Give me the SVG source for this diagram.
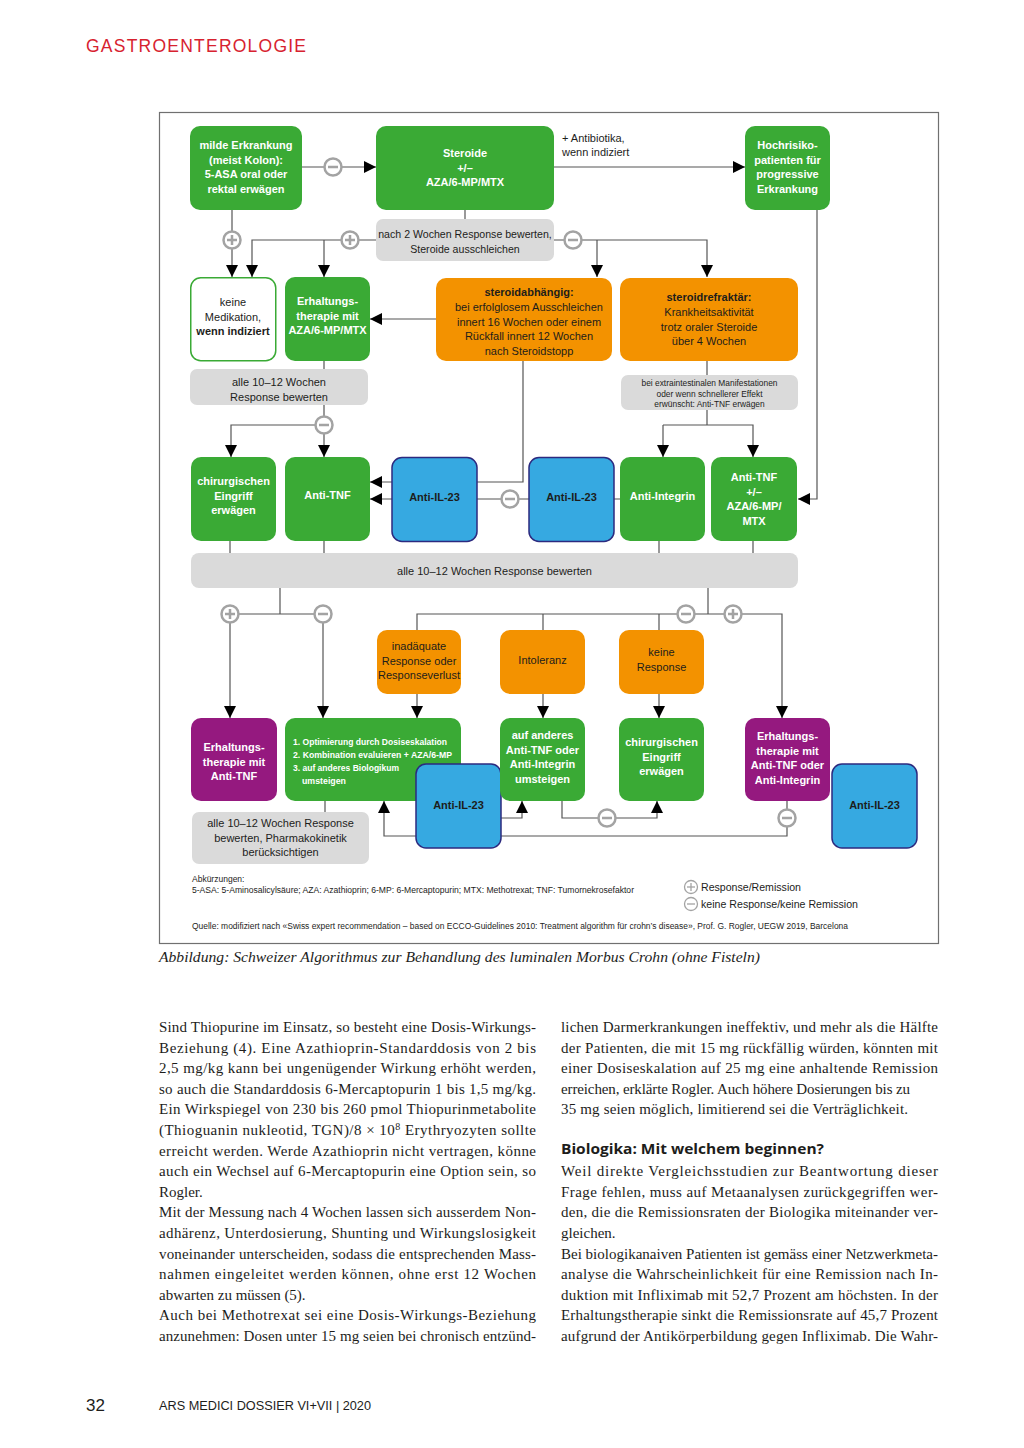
<svg xmlns="http://www.w3.org/2000/svg" xmlns:xlink="http://www.w3.org/1999/xlink" width="1024" height="1448" viewBox="0 0 1024 1448">
<style>
.g{fill:#3aaa35}
.o{fill:#f39200}
.p{fill:#95197f}
.b{fill:#36a9e1;stroke:#2c2a7f;stroke-width:1.5}
.gr{fill:#dadada}
.wb{fill:#fff;stroke:#3aaa35;stroke-width:1.5}
.tw{font-family:'Liberation Sans',Arial,sans-serif;font-weight:bold;font-size:11px;fill:#fff;text-anchor:middle}
.tkb{font-family:'Liberation Sans',Arial,sans-serif;font-weight:bold;font-size:11px;fill:#1d1d1b;text-anchor:middle}
.tk{font-family:'Liberation Sans',Arial,sans-serif;font-size:11px;fill:#1d1d1b;text-anchor:middle}
.ts{font-family:'Liberation Sans',Arial,sans-serif;font-size:8.5px;fill:#1d1d1b}
.ln{stroke:#555;stroke-width:1.2;fill:none}
.c{fill:#fff;stroke:#a3a3a3;stroke-width:2.5}
.cs{stroke:#a3a3a3;stroke-width:2.5}
.body{font-family:'Liberation Serif','Times New Roman',serif;font-size:15px;fill:#1d1d1b}
</style>
<defs>
<marker id="ar" markerUnits="userSpaceOnUse" markerWidth="12" markerHeight="12" refX="12" refY="6" orient="auto">
<path d="M0,0 L12,6 L0,12 z" fill="#000"/>
</marker>
<g id="minus"><circle r="8.5" class="c"/><line x1="-5" y1="0" x2="5" y2="0" class="cs"/></g>
<g id="plus"><circle r="8.5" class="c"/><line x1="-5" y1="0" x2="5" y2="0" class="cs"/><line x1="0" y1="-5" x2="0" y2="5" class="cs"/></g>
<g id="minusS"><circle r="6.5" fill="#fff" stroke="#a3a3a3" stroke-width="1.3"/><line x1="-4" y1="0" x2="4" y2="0" stroke="#a3a3a3" stroke-width="1.3"/></g>
<g id="plusS"><circle r="6.5" fill="#fff" stroke="#a3a3a3" stroke-width="1.3"/><line x1="-4" y1="0" x2="4" y2="0" stroke="#a3a3a3" stroke-width="1.3"/><line x1="0" y1="-4" x2="0" y2="4" stroke="#a3a3a3" stroke-width="1.3"/></g>
</defs>
<rect width="1024" height="1448" fill="#fff"/>

<!-- header -->
<text x="86" y="52" font-family="'Liberation Sans',Arial,sans-serif" font-size="17.5" fill="#d7222f" textLength="220" lengthAdjust="spacing">GASTROENTEROLOGIE</text>

<!-- frame -->
<rect x="159.5" y="112.5" width="779" height="831" fill="none" stroke="#707070" stroke-width="1.2"/>

<!-- connectors -->
<g id="connectors">
<path class="ln" d="M302,167 H376" marker-end="url(#ar)"/>
<path class="ln" d="M554,167 H745" marker-end="url(#ar)"/>
<path class="ln" d="M465,210 V219"/>
<path class="ln" d="M232,210 V277" marker-end="url(#ar)"/>
<path class="ln" d="M376,240 H252 V277" marker-end="url(#ar)"/>
<path class="ln" d="M324,240 V277" marker-end="url(#ar)"/>
<path class="ln" d="M554,240 H707 V277" marker-end="url(#ar)"/>
<path class="ln" d="M597,240 V277" marker-end="url(#ar)"/>
<path class="ln" d="M817,210 V499 H798" marker-end="url(#ar)"/>
<path class="ln" d="M436,319 H370" marker-end="url(#ar)"/>
<path class="ln" d="M324,361 V369"/>
<path class="ln" d="M324,405 V457" marker-end="url(#ar)"/>
<path class="ln" d="M324,425 H231 V457" marker-end="url(#ar)"/>
<path class="ln" d="M707,361 V375"/>
<path class="ln" d="M707,410 V425"/>
<path class="ln" d="M663,425 H753 V457" marker-end="url(#ar)"/>
<path class="ln" d="M663,425 V457" marker-end="url(#ar)"/>
<path class="ln" d="M523,361 V482 H370" marker-end="url(#ar)"/>
<path class="ln" d="M620,499 H370" marker-end="url(#ar)"/>
<path class="ln" d="M230,541 V553 M324,541 V553 M659,541 V553 M753,541 V553"/>
<path class="ln" d="M280,588 V614 M230,614 H323"/>
<path class="ln" d="M230,614 V718" marker-end="url(#ar)"/>
<path class="ln" d="M323,614 V718" marker-end="url(#ar)"/>
<path class="ln" d="M708,588 V614"/>
<path class="ln" d="M417,630 V614 H782 V718" marker-end="url(#ar)"/>
<path class="ln" d="M543,614 V630 M659,614 V630"/>
<path class="ln" d="M417,694 V718" marker-end="url(#ar)"/>
<path class="ln" d="M543,694 V718" marker-end="url(#ar)"/>
<path class="ln" d="M659,694 V718" marker-end="url(#ar)"/>
<path class="ln" d="M325,801 V812"/>
<path class="ln" d="M787,801 V836 H384 V801" marker-end="url(#ar)"/>
<path class="ln" d="M562,801 V818 H657 V801" marker-end="url(#ar)"/>
<path class="ln" d="M501,818 H522 V801" marker-end="url(#ar)"/>
<text x="562" y="142" class="tk" style="text-anchor:start">+ Antibiotika,</text>
<text x="562" y="156" class="tk" style="text-anchor:start">wenn indiziert</text>
<use xlink:href="#minus" x="333" y="167"/>
<use xlink:href="#plus" x="232" y="240"/>
<use xlink:href="#plus" x="350" y="240"/>
<use xlink:href="#minus" x="573" y="240"/>
<use xlink:href="#minus" x="324" y="425"/>
<use xlink:href="#minus" x="510" y="499"/>
<use xlink:href="#plus" x="230" y="614"/>
<use xlink:href="#minus" x="323" y="614"/>
<use xlink:href="#minus" x="686" y="614"/>
<use xlink:href="#plus" x="733" y="614"/>
<use xlink:href="#minus" x="787" y="818"/>
<use xlink:href="#minus" x="607" y="818"/>
</g>

<!-- row 1 -->
<g id="n-milde"><rect class="g" x="190" y="126" width="112" height="84" rx="10"/>
<text class="tw"><tspan x="246" y="149">milde Erkrankung</tspan><tspan x="246" y="163.5">(meist Kolon):</tspan><tspan x="246" y="178">5-ASA oral oder</tspan><tspan x="246" y="192.5">rektal erwägen</tspan></text></g>
<g id="n-steroide"><rect class="g" x="376" y="126" width="178" height="84" rx="10"/>
<text class="tw"><tspan x="465" y="157">Steroide</tspan><tspan x="465" y="171.5">+/–</tspan><tspan x="465" y="186">AZA/6-MP/MTX</tspan></text></g>
<g id="n-hoch"><rect class="g" x="745" y="126" width="85" height="84" rx="10"/>
<text class="tw"><tspan x="787.5" y="149">Hochrisiko-</tspan><tspan x="787.5" y="163.5">patienten für</tspan><tspan x="787.5" y="178">progressive</tspan><tspan x="787.5" y="192.5">Erkrankung</tspan></text></g>
<g id="n-gray1"><rect class="gr" x="376" y="219" width="178" height="42" rx="7"/>
<text class="tk" style="font-size:10.6px"><tspan x="465" y="238">nach 2 Wochen Response bewerten,</tspan><tspan x="465" y="253">Steroide ausschleichen</tspan></text></g>

<!-- row 2 -->
<g id="n-keine"><rect class="wb" x="190.75" y="277.75" width="85" height="83" rx="10"/>
<text class="tk"><tspan x="233" y="306">keine</tspan><tspan x="233" y="321">Medikation,</tspan><tspan x="233" y="335" font-weight="bold">wenn indiziert</tspan></text></g>
<g id="n-erh1"><rect class="g" x="285" y="277" width="85" height="84" rx="10"/>
<text class="tw"><tspan x="327.5" y="305">Erhaltungs-</tspan><tspan x="327.5" y="319.5">therapie mit</tspan><tspan x="327.5" y="334">AZA/6-MP/MTX</tspan></text></g>
<g id="n-abh"><rect class="o" x="436" y="278" width="176" height="83" rx="10"/>
<text class="tk"><tspan x="529" y="296" font-weight="bold">steroidabhängig:</tspan><tspan x="529" y="311">bei erfolglosem Ausschleichen</tspan><tspan x="529" y="325.5">innert 16 Wochen oder einem</tspan><tspan x="529" y="340">Rückfall innert 12 Wochen</tspan><tspan x="529" y="354.5">nach Steroidstopp</tspan></text></g>
<g id="n-refr"><rect class="o" x="620" y="278" width="178" height="83" rx="10"/>
<text class="tk"><tspan x="709" y="301" font-weight="bold">steroidrefraktär:</tspan><tspan x="709" y="316">Krankheitsaktivität</tspan><tspan x="709" y="330.5">trotz oraler Steroide</tspan><tspan x="709" y="345">über 4 Wochen</tspan></text></g>
<g id="n-gray2"><rect class="gr" x="190" y="369" width="178" height="36" rx="7"/>
<text class="tk"><tspan x="279" y="386">alle 10–12 Wochen</tspan><tspan x="279" y="401">Response bewerten</tspan></text></g>
<g id="n-gray3"><rect class="gr" x="621" y="375" width="177" height="35" rx="7"/>
<text class="tk" style="font-size:8.4px"><tspan x="709.5" y="386">bei extraintestinalen Manifestationen</tspan><tspan x="709.5" y="396.5">oder wenn schnellerer Effekt</tspan><tspan x="709.5" y="407">erwünscht: Anti-TNF erwägen</tspan></text></g>

<!-- row 3 -->
<g id="n-chir1"><rect class="g" x="191" y="457" width="85" height="84" rx="10"/>
<text class="tw"><tspan x="233.5" y="485">chirurgischen</tspan><tspan x="233.5" y="499.5">Eingriff</tspan><tspan x="233.5" y="514">erwägen</tspan></text></g>
<g id="n-antitnf1"><rect class="g" x="285" y="457" width="85" height="84" rx="10"/>
<text class="tw" x="327.5" y="499">Anti-TNF</text></g>
<g id="n-il23a"><rect class="b" x="392" y="457.5" width="85" height="84" rx="10"/>
<text class="tkb" x="434.5" y="501">Anti-IL-23</text></g>
<g id="n-il23b"><rect class="b" x="529" y="457.5" width="85" height="84" rx="10"/>
<text class="tkb" x="571.5" y="501">Anti-IL-23</text></g>
<g id="n-integrin"><rect class="g" x="620" y="457" width="85" height="84" rx="10"/>
<text class="tw" x="662.5" y="500">Anti-Integrin</text></g>
<g id="n-antitnf2"><rect class="g" x="711" y="457" width="86" height="84" rx="10"/>
<text class="tw"><tspan x="754" y="481">Anti-TNF</tspan><tspan x="754" y="495.5">+/–</tspan><tspan x="754" y="510">AZA/6-MP/</tspan><tspan x="754" y="524.5">MTX</tspan></text></g>
<g id="n-bar"><rect class="gr" x="191" y="553" width="607" height="35" rx="8"/>
<text class="tk" x="494.5" y="575">alle 10–12 Wochen Response bewerten</text></g>

<!-- row 4 -->
<g id="n-inad"><rect class="o" x="377" y="630" width="84" height="64" rx="10"/>
<text class="tk"><tspan x="419" y="650">inadäquate</tspan><tspan x="419" y="664.5">Response oder</tspan><tspan x="419" y="679">Responseverlust</tspan></text></g>
<g id="n-intol"><rect class="o" x="500" y="630" width="85" height="64" rx="10"/>
<text class="tk" x="542.5" y="664">Intoleranz</text></g>
<g id="n-keineresp"><rect class="o" x="619" y="630" width="85" height="64" rx="10"/>
<text class="tk"><tspan x="661.5" y="656">keine</tspan><tspan x="661.5" y="670.5">Response</tspan></text></g>

<g id="n-erh2"><rect class="p" x="191" y="718" width="86" height="83" rx="10"/>
<text class="tw"><tspan x="234" y="751">Erhaltungs-</tspan><tspan x="234" y="765.5">therapie mit</tspan><tspan x="234" y="780">Anti-TNF</tspan></text></g>
<g id="n-optim"><rect class="g" x="285" y="718" width="176" height="83" rx="10"/>
<text class="tw" style="text-anchor:start;font-size:9.4px"><tspan x="293" y="745" textLength="154" lengthAdjust="spacingAndGlyphs">1. Optimierung durch Dosiseskalation</tspan><tspan x="293" y="758" textLength="159" lengthAdjust="spacingAndGlyphs">2. Kombination evaluieren + AZA/6-MP</tspan><tspan x="293" y="771" textLength="106" lengthAdjust="spacingAndGlyphs">3. auf anderes Biologikum</tspan><tspan x="302" y="784" textLength="44" lengthAdjust="spacingAndGlyphs">umsteigen</tspan></text></g>
<g id="n-il23c"><rect class="b" x="416" y="764" width="85" height="84" rx="10"/>
<text class="tkb" x="458.5" y="809">Anti-IL-23</text></g>
<g id="n-anderes"><rect class="g" x="500" y="718" width="85" height="83" rx="10"/>
<text class="tw"><tspan x="542.5" y="739">auf anderes</tspan><tspan x="542.5" y="753.5">Anti-TNF oder</tspan><tspan x="542.5" y="768">Anti-Integrin</tspan><tspan x="542.5" y="782.5">umsteigen</tspan></text></g>
<g id="n-chir2"><rect class="g" x="619" y="718" width="85" height="83" rx="10"/>
<text class="tw"><tspan x="661.5" y="746">chirurgischen</tspan><tspan x="661.5" y="760.5">Eingriff</tspan><tspan x="661.5" y="775">erwägen</tspan></text></g>
<g id="n-erh3"><rect class="p" x="745" y="718" width="85" height="83" rx="10"/>
<text class="tw"><tspan x="787.5" y="740">Erhaltungs-</tspan><tspan x="787.5" y="754.5">therapie mit</tspan><tspan x="787.5" y="769">Anti-TNF oder</tspan><tspan x="787.5" y="783.5">Anti-Integrin</tspan></text></g>
<g id="n-il23d"><rect class="b" x="832" y="764" width="85" height="84" rx="10"/>
<text class="tkb" x="874.5" y="809">Anti-IL-23</text></g>
<g id="n-gray4"><rect class="gr" x="192" y="812" width="177" height="52" rx="7"/>
<text class="tk"><tspan x="280.5" y="827">alle 10–12 Wochen Response</tspan><tspan x="280.5" y="842">bewerten, Pharmakokinetik</tspan><tspan x="280.5" y="856">berücksichtigen</tspan></text></g>

<!-- footer inside frame -->
<text class="ts" x="192" y="882">Abkürzungen:</text>
<text class="ts" x="192" y="893" textLength="442" lengthAdjust="spacingAndGlyphs">5-ASA: 5-Aminosalicylsäure; AZA: Azathioprin; 6-MP: 6-Mercaptopurin; MTX: Methotrexat; TNF: Tumornekrosefaktor</text>
<use xlink:href="#plusS" x="691" y="887"/>
<use xlink:href="#minusS" x="691" y="904"/>
<text class="tk" style="text-anchor:start" x="701" y="891" textLength="100" lengthAdjust="spacingAndGlyphs">Response/Remission</text>
<text class="tk" style="text-anchor:start" x="701" y="908" textLength="157" lengthAdjust="spacingAndGlyphs">keine Response/keine Remission</text>
<text class="ts" x="192" y="929" textLength="656" lengthAdjust="spacingAndGlyphs">Quelle: modifiziert nach «Swiss expert recommendation – based on ECCO-Guidelines 2010: Treatment algorithm für crohn’s disease», Prof. G. Rogler, UEGW 2019, Barcelona</text>

<!-- caption -->
<text x="159" y="962" font-family="'Liberation Serif','Times New Roman',serif" font-style="italic" font-size="15" fill="#1d1d1b" textLength="601" lengthAdjust="spacingAndGlyphs">Abbildung: Schweizer Algorithmus zur Behandlung des luminalen Morbus Crohn (ohne Fisteln)</text>

<!-- body text left -->
<g class="body">
<text x="159" y="1032" textLength="377" lengthAdjust="spacing">Sind Thiopurine im Einsatz, so besteht eine Dosis-Wirkungs-</text>
<text x="159" y="1052.6" textLength="377" lengthAdjust="spacing">Beziehung (4). Eine Azathioprin-Standarddosis von 2 bis</text>
<text x="159" y="1073.2" textLength="377" lengthAdjust="spacing">2,5 mg/kg kann bei ungenügender Wirkung erhöht werden,</text>
<text x="159" y="1093.8" textLength="377" lengthAdjust="spacing">so auch die Standarddosis 6-Mercaptopurin 1 bis 1,5 mg/kg.</text>
<text x="159" y="1114.4" textLength="377" lengthAdjust="spacing">Ein Wirkspiegel von 230 bis 260 pmol Thiopurinmetabolite</text>
<text x="159" y="1135" textLength="377" lengthAdjust="spacing">(Thioguanin nukleotid, TGN)/8 × 10<tspan dy="-5" font-size="10">8</tspan><tspan dy="5"> Erythryozyten sollte</tspan></text>
<text x="159" y="1155.6" textLength="377" lengthAdjust="spacing">erreicht werden. Werde Azathioprin nicht vertragen, könne</text>
<text x="159" y="1176.2" textLength="377" lengthAdjust="spacing">auch ein Wechsel auf 6-Mercaptopurin eine Option sein, so</text>
<text x="159" y="1196.8">Rogler.</text>
<text x="159" y="1217.4" textLength="377" lengthAdjust="spacing">Mit der Messung nach 4 Wochen lassen sich ausserdem Non-</text>
<text x="159" y="1238" textLength="377" lengthAdjust="spacing">adhärenz, Unterdosierung, Shunting und Wirkungslosigkeit</text>
<text x="159" y="1258.6" textLength="377" lengthAdjust="spacing">voneinander unterscheiden, sodass die entsprechenden Mass-</text>
<text x="159" y="1279.2" textLength="377" lengthAdjust="spacing">nahmen eingeleitet werden können, ohne erst 12 Wochen</text>
<text x="159" y="1299.8">abwarten zu müssen (5).</text>
<text x="159" y="1320.4" textLength="377" lengthAdjust="spacing">Auch bei Methotrexat sei eine Dosis-Wirkungs-Beziehung</text>
<text x="159" y="1341" textLength="377" lengthAdjust="spacing">anzunehmen: Dosen unter 15 mg seien bei chronisch entzünd-</text>
</g>
<!-- body text right -->
<g class="body">
<text x="561" y="1032" textLength="377" lengthAdjust="spacing">lichen Darmerkrankungen ineffektiv, und mehr als die Hälfte</text>
<text x="561" y="1052.6" textLength="377" lengthAdjust="spacing">der Patienten, die mit 15 mg rückfällig würden, könnten mit</text>
<text x="561" y="1073.2" textLength="377" lengthAdjust="spacing">einer Dosiseskalation auf 25 mg eine anhaltende Remission</text>
<text x="561" y="1093.8" textLength="349" lengthAdjust="spacing">erreichen, erklärte Rogler. Auch höhere Dosierungen bis zu</text>
<text x="561" y="1114.4" textLength="347" lengthAdjust="spacing">35 mg seien möglich, limitierend sei die Verträglichkeit.</text>
<text x="561" y="1176.2" textLength="377" lengthAdjust="spacing">Weil direkte Vergleichsstudien zur Beantwortung dieser</text>
<text x="561" y="1196.8" textLength="377" lengthAdjust="spacing">Frage fehlen, muss auf Metaanalysen zurückgegriffen wer-</text>
<text x="561" y="1217.4" textLength="377" lengthAdjust="spacing">den, die die Remissionsraten der Biologika miteinander ver-</text>
<text x="561" y="1238">gleichen.</text>
<text x="561" y="1258.6" textLength="377" lengthAdjust="spacing">Bei biologikanaiven Patienten ist gemäss einer Netzwerkmeta-</text>
<text x="561" y="1279.2" textLength="377" lengthAdjust="spacing">analyse die Wahrscheinlichkeit für eine Remission nach In-</text>
<text x="561" y="1299.8" textLength="377" lengthAdjust="spacing">duktion mit Infliximab mit 52,7 Prozent am höchsten. In der</text>
<text x="561" y="1320.4" textLength="377" lengthAdjust="spacing">Erhaltungstherapie sinkt die Remissionsrate auf 45,7 Prozent</text>
<text x="561" y="1341" textLength="377" lengthAdjust="spacing">aufgrund der Antikörperbildung gegen Infliximab. Die Wahr-</text>
</g>
<text x="561" y="1154" font-family="'Open Sans','Liberation Sans',sans-serif" font-weight="bold" font-size="15" fill="#1d1d1b" textLength="263" lengthAdjust="spacingAndGlyphs">Biologika: Mit welchem beginnen?</text>

<!-- page footer -->
<text x="86" y="1411" font-family="'Liberation Sans',Arial,sans-serif" font-size="17" fill="#1d1d1b">32</text>
<text x="159" y="1410" font-family="'Liberation Sans',Arial,sans-serif" font-size="12.5" fill="#1d1d1b" textLength="212" lengthAdjust="spacingAndGlyphs">ARS MEDICI DOSSIER VI+VII | 2020</text>
</svg>
